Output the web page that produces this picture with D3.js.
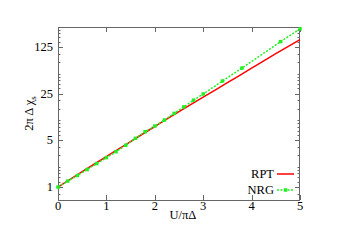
<!DOCTYPE html>
<html>
<head>
<meta charset="utf-8">
<script src="https://cdn.jsdelivr.net/npm/d3@7"></script>
<style>
  body { margin: 0; background: #fff; }
</style>
</head>
<body>
<div id="chart"></div>
<script>
// ---- data ----
var nrgU   = [0, 0.2, 0.4, 0.6, 0.8, 1.0, 1.2, 1.4, 1.6, 1.8, 2.0, 2.2, 2.4, 2.6, 2.8, 3.0, 3.4, 3.8, 4.6, 5.0];
var nrgChi = [1, 1.23, 1.49, 1.83, 2.25, 2.76, 3.39, 4.23, 5.37, 6.74, 8.19, 10.1, 12.7, 15.9, 20.0, 24.8, 38.8, 60.6, 151, 234];
var rptU   = [0, 0.5, 1.0, 1.5, 2.0, 2.5, 3.0, 3.5, 4.0, 4.5, 5.0];
var rptChi = [1, 1.70, 2.86, 4.81, 8.08, 13.5, 22.2, 36.6, 60.3, 99.5, 162];
var xTicks = [0, 1, 2, 3, 4, 5];
var yTicks = [1, 5, 25, 125];
var minorMult = [1.2, 1.4, 1.6, 1.8, 2, 3, 4];
var legendNames = ["RPT", "NRG"];

var width = 339, height = 240;
var margin = {top: 27, right: 39, bottom: 40, left: 58};
var red = "#ff0000", green = "#22ee22", axisColor = "#666";
var serif = "'Liberation Serif', 'Times New Roman', serif";

var svg = d3.select("#chart").append("svg")
  .attr("width", width).attr("height", height)
  .attr("font-family", serif);

var x = d3.scaleLinear().domain([0, 5]).range([margin.left, width - margin.right]);
var y = d3.scaleLog().domain([0.64, 250]).range([height - margin.bottom, margin.top]);

var x0 = x.range()[0], x1 = x.range()[1], y0 = y.range()[0], y1 = y.range()[1];

//////////////////////////// ticks ////////////////////////////
var tickG = svg.append("g").attr("stroke", axisColor).attr("stroke-width", 1);
xTicks.forEach(function(t) {
  var px = Math.round(x(t)) + 0.5;
  tickG.append("line").attr("x1", px).attr("x2", px).attr("y1", y0).attr("y2", y0 - 5);
  tickG.append("line").attr("x1", px).attr("x2", px).attr("y1", y1).attr("y2", y1 + 5);
});
yTicks.forEach(function(t) {
  var py = Math.round(y(t)) + 0.5;
  tickG.append("line").attr("x1", x0).attr("x2", x0 + 5).attr("y1", py).attr("y2", py);
  tickG.append("line").attr("x1", x1).attr("x2", x1 - 5).attr("y1", py).attr("y2", py);
});
var minors = [];
[0.2, 1, 5, 25, 125].forEach(function(b) {
  minorMult.forEach(function(m) {
    var v = b * m;
    if (v > y.domain()[0] && v < y.domain()[1]) minors.push(v);
  });
});
minors.forEach(function(t) {
  var py = Math.round(y(t)) + 0.5;
  tickG.append("line").attr("x1", x0).attr("x2", x0 + 2.5).attr("y1", py).attr("y2", py);
  tickG.append("line").attr("x1", x1).attr("x2", x1 - 2.5).attr("y1", py).attr("y2", py);
});

// frame
svg.append("rect")
  .attr("x", x0 + 0.5).attr("y", y1 + 0.5)
  .attr("width", x1 - x0 - 1).attr("height", y0 - y1)
  .attr("fill", "none").attr("stroke", axisColor).attr("stroke-width", 1);

// tick labels
svg.selectAll(".xl").data(xTicks).enter().append("text")
  .attr("x", function(d) { return x(d); })
  .attr("y", y0 + 10)
  .attr("text-anchor", "middle").attr("font-size", 12.5)
  .text(function(d) { return d; });
svg.selectAll(".yl").data(yTicks).enter().append("text")
  .attr("x", x0 - 5)
  .attr("y", function(d) { return y(d) + 4; })
  .attr("text-anchor", "end").attr("font-size", 12.5)
  .text(function(d) { return d; });

// axis titles
svg.append("text")
  .attr("x", 183).attr("y", 219)
  .attr("text-anchor", "middle").attr("font-size", 12.5)
  .text("U/πΔ");
var yt = svg.append("text")
  .attr("transform", "translate(33," + ((y0 + y1) / 2) + ") rotate(-90)")
  .attr("text-anchor", "middle").attr("font-size", 12.5);
yt.append("tspan").text("2π Δ χ");
yt.append("tspan").attr("font-size", 9).attr("dy", 3).text("s");

//////////////////////////// series ////////////////////////////
var line = d3.line()
  .x(function(d) { return x(d[0]); })
  .y(function(d) { return y(d[1]); });

var rpt = rptU.map(function(u, i) { return [u, rptChi[i]]; });
var nrg = nrgU.map(function(u, i) { return [u, nrgChi[i]]; });

svg.append("path").datum(rpt)
  .attr("d", line.curve(d3.curveMonotoneX))
  .attr("fill", "none").attr("stroke", red).attr("stroke-width", 1.5);

svg.append("path").datum(nrg)
  .attr("d", d3.line().x(function(d) { return x(d[0]); }).y(function(d) { return y(d[1]); }))
  .attr("fill", "none").attr("stroke", green).attr("stroke-width", 1.5)
  .attr("stroke-dasharray", "2,1.5");

svg.selectAll(".pt").data(nrg).enter().append("rect")
  .attr("x", function(d) { return x(d[0]) - 1.75; })
  .attr("y", function(d) { return y(d[1]) - 1.75; })
  .attr("width", 3.5).attr("height", 3.5)
  .attr("fill", green);

//////////////////////////// legend ////////////////////////////
var legY = [174, 190];
legendNames.forEach(function(n, i) {
  svg.append("text")
    .attr("x", 274).attr("y", legY[i] + 4)
    .attr("text-anchor", "end").attr("font-size", 12.5)
    .text(n);
  var l = svg.append("line")
    .attr("x1", 277).attr("x2", 294).attr("y1", legY[i]).attr("y2", legY[i])
    .attr("stroke-width", 1.5);
  if (i == 0) {
    l.attr("stroke", red);
  } else {
    l.attr("stroke", green).attr("stroke-dasharray", "2,1.5");
    svg.append("rect").attr("x", 283.75).attr("y", legY[i] - 1.75)
      .attr("width", 3.5).attr("height", 3.5).attr("fill", green);
  }
});
</script>
</body>
</html>
